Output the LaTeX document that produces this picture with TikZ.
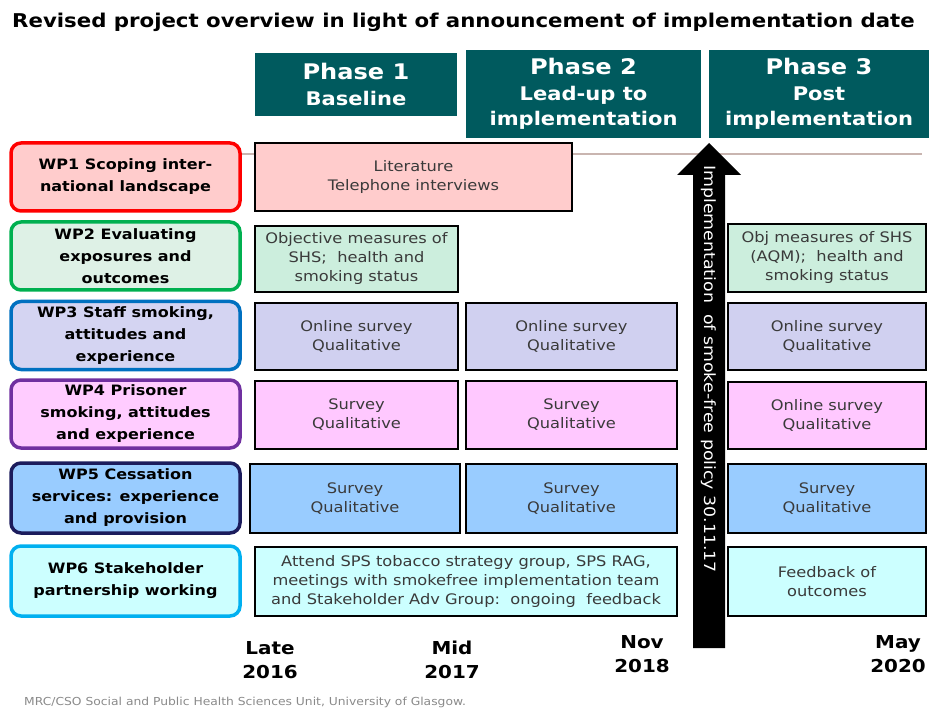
\documentclass[tikz,border=0pt]{standalone}
\usepackage{fontspec}
\setmainfont{DejaVu Sans}[FakeStretch=1.12]
\definecolor{teal}{HTML}{005A5E}
\definecolor{linec}{HTML}{C9B5B0}
\definecolor{txtg}{HTML}{3A3A3A}
\definecolor{foot}{HTML}{8A8A8A}
\definecolor{rA}{HTML}{FFCCCC}\definecolor{bA}{HTML}{FF0000}
\definecolor{rB}{HTML}{DEF1E6}\definecolor{cB}{HTML}{CCEEDD}\definecolor{bB}{HTML}{00B050}
\definecolor{rC}{HTML}{D4D4F2}\definecolor{cC}{HTML}{D0D0F0}\definecolor{bC}{HTML}{0070C0}
\definecolor{rD}{HTML}{FFCCFF}\definecolor{cD}{HTML}{FFC8FF}\definecolor{bD}{HTML}{7030A0}
\definecolor{rE}{HTML}{99CCFF}\definecolor{bE}{HTML}{1C1C5C}
\definecolor{rF}{HTML}{CCFFFF}\definecolor{bF}{HTML}{00B0F0}
\begin{document}
\begin{tikzpicture}[x=1pt,y=-1pt,
  wpbox/.style={draw, line width=3.5pt, rounded corners=10pt, align=center, inner sep=0pt,
    minimum width=229pt, minimum height=68pt, font=\fontsize{14.3}{22}\selectfont\bfseries, text=black},
  cbox/.style={draw=black, line width=1.8pt, align=center, inner sep=0pt,
    font=\fontsize{14.5}{19}\selectfont, text=txtg},
  phasebox/.style={fill=teal, text=white, align=center, inner sep=0pt,
    font=\fontsize{18.8}{25.5}\selectfont\bfseries},
  datelbl/.style={align=center, font=\fontsize{17.8}{24}\selectfont\bfseries, text=black}
]
\useasboundingbox (0,0) rectangle (929,711);
% title
\node[anchor=base west, font=\fontsize{19}{24}\selectfont\bfseries, inner sep=0pt] (title) at (12,28)
  {Revised project overview in light of announcement of implementation date};
% phases
\node[phasebox, minimum width=202pt, minimum height=63pt] (ph1) at (356,84.5)
  {{\fontsize{21.5}{25.5}\selectfont Phase 1}\\Baseline};
\node[phasebox, minimum width=235pt, minimum height=88pt] (ph2) at (583.5,94)
  {{\fontsize{21.5}{25.5}\selectfont Phase 2}\\Lead-up to\\implementation};
\node[phasebox, minimum width=220pt, minimum height=88pt] (ph3) at (819,94)
  {{\fontsize{21.5}{25.5}\selectfont Phase 3}\\Post\\implementation};
% timeline line
\coordinate (ls) at (240,154);
\coordinate (le) at (922,154);
\draw[linec, line width=2pt] (ls) -- (le);
% WP boxes
\node[wpbox, draw=bA, fill=rA] (wp1) at (125.5,177) {WP1 Scoping inter-\\national landscape};
\node[wpbox, draw=bB, fill=rB] (wp2) at (125.5,256) {WP2 Evaluating\\exposures and\\outcomes};
\node[wpbox, draw=bC, fill=rC] (wp3) at (125.5,335.5) {WP3 Staff smoking,\\attitudes and\\experience};
\node[wpbox, draw=bD, fill=rD] (wp4) at (125.5,414) {WP4 Prisoner\\smoking, attitudes\\and experience};
\node[wpbox, draw=bE, fill=rE, minimum height=70pt] (wp5) at (125.5,498) {WP5 Cessation\\services: experience\\and provision};
\node[wpbox, draw=bF, fill=rF, minimum height=70pt] (wp6) at (125.5,581) {WP6 Stakeholder\\partnership working};
% row 1
\node[cbox, fill=rA, minimum width=317pt, minimum height=68pt] (c1) at (413.5,177) {Literature\\Telephone interviews};
% row 2
\node[cbox, fill=cB, minimum width=203pt, minimum height=66pt] (c2a) at (356.5,259) {Objective measures of\\SHS;\ \ health and\\smoking status};
\node[cbox, fill=cB, minimum width=198pt, minimum height=68pt] (c2c) at (827,258) {Obj measures of SHS\\(AQM);\ \ health and\\smoking status};
% row 3
\node[cbox, fill=cC, minimum width=203pt, minimum height=67pt] (c3a) at (356.5,336.5) {Online survey\\Qualitative};
\node[cbox, fill=cC, minimum width=211pt, minimum height=67pt] (c3b) at (571.5,336.5) {Online survey\\Qualitative};
\node[cbox, fill=cC, minimum width=198pt, minimum height=67pt] (c3c) at (827,336.5) {Online survey\\Qualitative};
% row 4
\node[cbox, fill=cD, minimum width=203pt, minimum height=68pt] (c4a) at (356.5,415) {Survey\\Qualitative};
\node[cbox, fill=cD, minimum width=211pt, minimum height=68pt] (c4b) at (571.5,415) {Survey\\Qualitative};
\node[cbox, fill=cD, minimum width=198pt, minimum height=67pt] (c4c) at (827,415.5) {Online survey\\Qualitative};
% row 5
\node[cbox, fill=rE, minimum width=210pt, minimum height=69pt] (c5a) at (355,498.5) {Survey\\Qualitative};
\node[cbox, fill=rE, minimum width=211pt, minimum height=69pt] (c5b) at (571.5,498.5) {Survey\\Qualitative};
\node[cbox, fill=rE, minimum width=198pt, minimum height=69pt] (c5c) at (827,498.5) {Survey\\Qualitative};
% row 6
\node[cbox, fill=rF, minimum width=422pt, minimum height=69pt] (c6a) at (466,581.5)
  {Attend SPS\ tobacco strategy group, SPS RAG,\\meetings with smokefree implementation team\\and Stakeholder Adv Group:\ \ ongoing\ \ feedback};
\node[cbox, fill=rF, minimum width=198pt, minimum height=69pt] (c6c) at (827,581.5) {Feedback of\\outcomes};
% arrow
\fill[black] (693,648) -- (693,175) -- (677,175) -- (709,143) -- (741,175) -- (725,175) -- (725,648) -- cycle;
\node[rotate=-90, anchor=west, inner sep=0pt, text=white, font=\fontsize{15.5}{17}\selectfont] (arrtxt) at (709,165)
  {Implementation\ \ of smoke-free policy 30.11.17};
% dates
\node[datelbl] (d1) at (270,660) {Late\\2016};
\node[datelbl] (d2) at (452,660) {Mid\\2017};
\node[datelbl] (d3) at (642,654) {Nov\\2018};
\node[datelbl] (d4) at (898,654) {May\\2020};
% footer
\node[anchor=base west, inner sep=0pt, text=foot, font=\fontsize{11}{13}\selectfont] (footer) at (24,705)
  {MRC/CSO Social and Public Health Sciences Unit, University of Glasgow.};
\end{tikzpicture}
\end{document}
